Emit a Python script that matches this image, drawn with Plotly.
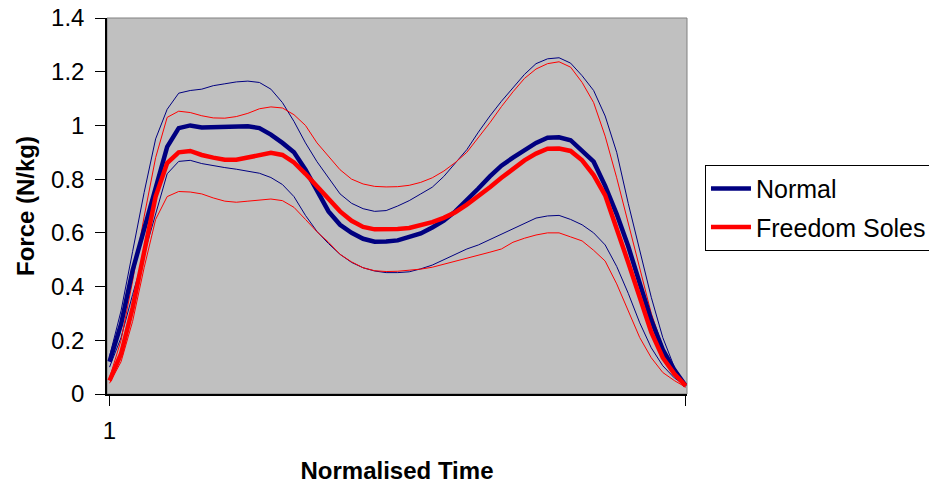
import plotly.graph_objects as go

# Normalised time index (51 samples)
time_idx = list(range(1, 52))

normal_mean = [0.12, 0.26, 0.46, 0.615, 0.78, 0.92, 0.99, 1.0, 0.992, 0.993,
               0.995, 0.997, 0.997, 0.99, 0.966, 0.935, 0.90, 0.835, 0.755, 0.68,
               0.63, 0.60, 0.578, 0.567, 0.568, 0.572, 0.585, 0.598, 0.62, 0.645,
               0.68, 0.72, 0.765, 0.81, 0.85, 0.88, 0.91, 0.935, 0.954, 0.956,
               0.945, 0.905, 0.865, 0.775, 0.67, 0.55, 0.41, 0.275, 0.165, 0.09, 0.03]

normal_upper = [0.14, 0.31, 0.53, 0.75, 0.95, 1.06, 1.12, 1.13, 1.135, 1.148,
                1.155, 1.162, 1.165, 1.16, 1.135, 1.085, 1.015, 0.935, 0.865, 0.805,
                0.745, 0.71, 0.69, 0.68, 0.683, 0.70, 0.72, 0.745, 0.77, 0.81,
                0.86, 0.91, 0.975, 1.035, 1.09, 1.14, 1.19, 1.23, 1.248, 1.252,
                1.232, 1.185, 1.13, 1.035, 0.90, 0.71, 0.53, 0.36, 0.21, 0.10, 0.035]

normal_lower = [0.10, 0.21, 0.37, 0.52, 0.66, 0.82, 0.866, 0.87, 0.858, 0.85,
                0.843, 0.837, 0.83, 0.822, 0.806, 0.78, 0.735, 0.665, 0.605, 0.56,
                0.52, 0.49, 0.47, 0.458, 0.452, 0.452, 0.455, 0.466, 0.48, 0.50,
                0.52, 0.54, 0.555, 0.575, 0.596, 0.616, 0.638, 0.655, 0.663, 0.665,
                0.65, 0.63, 0.60, 0.555, 0.475, 0.375, 0.265, 0.172, 0.105, 0.06, 0.03]

fs_mean = [0.05, 0.15, 0.32, 0.535, 0.735, 0.86, 0.90, 0.905, 0.89, 0.88,
           0.872, 0.872, 0.882, 0.892, 0.898, 0.89, 0.862, 0.82, 0.775, 0.73,
           0.68, 0.645, 0.622, 0.613, 0.612, 0.614, 0.618, 0.627, 0.64, 0.656,
           0.677, 0.705, 0.735, 0.77, 0.805, 0.84, 0.87, 0.895, 0.913, 0.914,
           0.905, 0.87, 0.815, 0.74, 0.62, 0.49, 0.36, 0.23, 0.135, 0.075, 0.03]

fs_upper = [0.06, 0.20, 0.42, 0.66, 0.88, 1.03, 1.053, 1.048, 1.036, 1.028,
            1.027, 1.033, 1.045, 1.062, 1.069, 1.065, 1.04, 1.0, 0.935, 0.885,
            0.835, 0.80, 0.782, 0.773, 0.771, 0.772, 0.777, 0.788, 0.805, 0.83,
            0.862, 0.90, 0.955, 1.01, 1.07, 1.125, 1.175, 1.21, 1.23, 1.237,
            1.217, 1.16, 1.085, 0.96, 0.805, 0.635, 0.465, 0.30, 0.175, 0.09, 0.03]

fs_lower = [0.04, 0.12, 0.27, 0.47, 0.65, 0.735, 0.754, 0.752, 0.745, 0.73,
            0.718, 0.714, 0.718, 0.723, 0.726, 0.72, 0.695, 0.65, 0.604, 0.565,
            0.52, 0.492, 0.47, 0.459, 0.456, 0.457, 0.46, 0.465, 0.472, 0.483,
            0.493, 0.505, 0.517, 0.528, 0.54, 0.565, 0.58, 0.592, 0.60, 0.60,
            0.585, 0.57, 0.535, 0.495, 0.41, 0.31, 0.21, 0.135, 0.08, 0.05, 0.025]

y_ticks = [0, 0.2, 0.4, 0.6, 0.8, 1.0, 1.2, 1.4]
y_tick_labels = ["0", "0.2", "0.4", "0.6", "0.8", "1", "1.2", "1.4"]

NAVY = "#000080"
RED = "#FF0000"
FONT = "Arial, Liberation Sans, sans-serif"

fig = go.Figure()

for vals, col in [(normal_upper, NAVY), (normal_lower, NAVY),
                  (fs_upper, RED), (fs_lower, RED)]:
    fig.add_trace(go.Scatter(x=time_idx, y=vals, mode="lines",
                             line=dict(color=col, width=1),
                             showlegend=False, hoverinfo="skip"))

fig.add_trace(go.Scatter(x=time_idx, y=normal_mean, mode="lines", name="Normal",
                         legendgroup="a", line=dict(color=NAVY, width=4.5)))
fig.add_trace(go.Scatter(x=time_idx, y=fs_mean, mode="lines", name="Freedom Soles",
                         legendgroup="b", line=dict(color=RED, width=4.5)))

fig.update_layout(
    width=929, height=484,
    margin=dict(l=107, r=242, t=18, b=90, autoexpand=False),
    paper_bgcolor="white",
    plot_bgcolor="#C0C0C0",
    font=dict(family=FONT, size=24, color="black"),
    legend=dict(x=1.031, xanchor="left", y=0.61, yanchor="top",
                bordercolor="black", borderwidth=1, bgcolor="white",
                font=dict(size=25), itemwidth=40, tracegroupgap=3,
                traceorder="grouped"),
    shapes=[dict(type="rect", xref="paper", yref="paper", x0=0, x1=1, y0=0, y1=1,
                 line=dict(color="#808080", width=1), layer="below")],
)

fig.update_xaxes(
    range=[0.78, 51.1],
    tickvals=[1, 51], ticktext=["1", ""],
    ticks="outside", ticklen=10, tickcolor="black",
    ticklabelstandoff=4, ticklabeloverflow="allow",
    showline=True, linecolor="black", linewidth=1.5,
    showgrid=False, zeroline=False,
    title=dict(text="Normalised Time", font=dict(size=24, weight="bold"), standoff=20),
)

fig.update_yaxes(
    range=[0, 1.4],
    tickvals=y_ticks, ticktext=y_tick_labels,
    ticks="outside", ticklen=10, tickcolor="black",
    ticklabelstandoff=6, ticklabeloverflow="allow",
    showline=True, linecolor="black", linewidth=1.5,
    showgrid=False, zeroline=False,
    title=dict(text="Force (N/kg)", font=dict(size=24, weight="bold"), standoff=10),
)

fig.write_html("out.html",
               config={"displayModeBar": False},
               post_script="document.body.style.margin='0';document.body.style.overflow='hidden';")
